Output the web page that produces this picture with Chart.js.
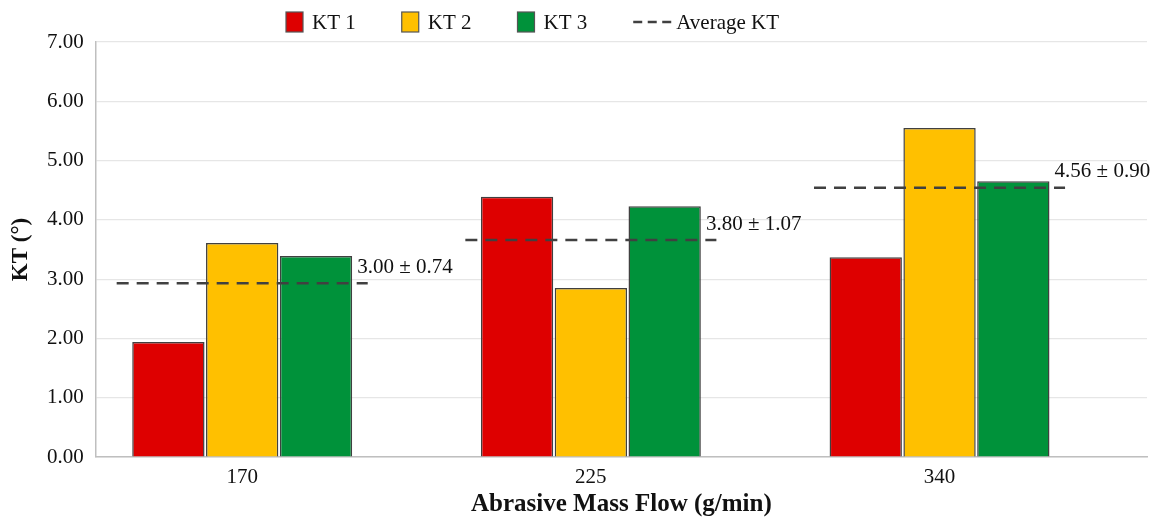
<!DOCTYPE html>
<html>
<head>
<meta charset="utf-8">
<script src="https://cdn.jsdelivr.net/npm/chart.js@4.4.1/dist/chart.umd.min.js"></script>
<style>
  html, body { margin: 0; padding: 0; background: #fff; }
  #wrap { width: 1150px; height: 518px; }
</style>
</head>
<body>
<div id="wrap"><canvas id="ktChart" width="1150" height="518"></canvas></div>
<script>
// categorias (flujo masico de abrasivo, g/min)
const categories = ['170', '225', '340'];
const kt1 = [1.94, 4.39, 3.37];
const kt2 = [3.61, 2.85, 5.55];
const kt3 = [3.39, 4.23, 4.65];
// linea de promedio tal como esta dibujada, y etiqueta media ± desviacion
const avgKT = [2.93, 3.66, 4.54];
const avgText = ['3.00', '3.80', '4.56'];
const sdText = ['0.74', '1.07', '0.90'];

const FONT = "'Liberation Serif', 'DejaVu Serif', serif";
const DARK = '#404040';
const HALF = 0.36; // medio ancho de la linea de promedio (en unidades de categoria)

// puntos de la linea discontinua, con huecos entre grupos
const avgPoints = [];
avgKT.forEach((v, i) => {
  avgPoints.push({ x: i - HALF, y: v });
  avgPoints.push({ x: i + HALF, y: v });
  avgPoints.push({ x: i + 0.5, y: null });
});

const barSet = (label, values, color) => ({
  type: 'bar',
  label: label,
  data: values.map((v, i) => ({ x: i, y: v })),
  backgroundColor: color,
  borderColor: DARK,
  borderWidth: 1.5,
  barPercentage: 0.98,
  categoryPercentage: 0.635,
  order: 1,
});

// texto "media ± sd" junto a cada linea
const avgLabels = {
  id: 'avgLabels',
  afterDatasetsDraw(chart) {
    const { ctx, scales: { x, y } } = chart;
    ctx.save();
    ctx.font = '21px ' + FONT;
    ctx.fillStyle = '#111';
    ctx.textAlign = 'left';
    ctx.textBaseline = 'middle';
    avgKT.forEach((v, i) => {
      const px = x.getPixelForValue(i + 0.33);
      const py = y.getPixelForValue(v) - 16;
      ctx.fillText(avgText[i] + ' \u00b1 ' + sdText[i], px, py);
    });
    ctx.restore();
  }
};

// leyenda propia (la del original no esta centrada)
const topLegend = {
  id: 'topLegend',
  afterDraw(chart) {
    const ctx = chart.ctx;
    const cy = 22;
    let xPos = 286;
    ctx.save();
    ctx.font = '21px ' + FONT;
    ctx.fillStyle = '#111';
    ctx.textBaseline = 'middle';
    chart.data.datasets.forEach(ds => {
      if (ds.type === 'bar') {
        ctx.fillStyle = ds.backgroundColor;
        ctx.fillRect(xPos, cy - 10, 17, 20);
        ctx.strokeStyle = '#555';
        ctx.lineWidth = 1.2;
        ctx.strokeRect(xPos, cy - 10, 17, 20);
        xPos += 17 + 9;
      } else {
        ctx.strokeStyle = DARK;
        ctx.lineWidth = 2.5;
        ctx.setLineDash([9, 5.5]);
        ctx.beginPath();
        ctx.moveTo(xPos, cy);
        ctx.lineTo(xPos + 38, cy);
        ctx.stroke();
        ctx.setLineDash([]);
        xPos += 38 + 5;
      }
      ctx.fillStyle = '#111';
      ctx.fillText(ds.label, xPos, cy + 1);
      xPos += ctx.measureText(ds.label).width + 46;
    });
    ctx.restore();
  }
};

new Chart(document.getElementById('ktChart').getContext('2d'), {
  data: {
    datasets: [
      barSet('KT 1', kt1, '#DE0000'),
      barSet('KT 2', kt2, '#FFC000'),
      barSet('KT 3', kt3, '#00923A'),
      {
        type: 'line',
        label: 'Average KT',
        data: avgPoints,
        borderColor: DARK,
        backgroundColor: DARK,
        borderWidth: 2.5,
        borderDash: [12, 8],
        pointRadius: 0,
        spanGaps: false,
        order: 0,
      },
    ],
  },
  options: {
    responsive: false,
    maintainAspectRatio: false,
    animation: false,
    layout: { padding: { top: 42, right: 3, left: 10, bottom: 0 } },
    plugins: {
      tooltip: { enabled: false },
      legend: { display: false },
    },
    scales: {
      x: {
        type: 'linear',
        offset: false,
        min: -0.42,
        max: 2.595,
        grid: { display: false },
        border: { color: '#bfbfbf', width: 1.5 },
        ticks: {
          stepSize: 1,
          includeBounds: false,
          padding: 2,
          color: '#111',
          font: { family: FONT, size: 21, lineHeight: 1 },
          callback: v => (Number.isInteger(v) && categories[v] !== undefined) ? categories[v] : '',
        },
        title: {
          display: true,
          text: 'Abrasive Mass Flow (g/min)',
          color: '#111',
          font: { family: FONT, size: 25, weight: 'bold', lineHeight: 1 },
          padding: { top: 2, bottom: 1 },
        },
      },
      y: {
        min: 0,
        max: 7,
        grid: { color: '#e6e6e6', lineWidth: 1.2, drawTicks: false },
        border: { color: '#bfbfbf', width: 1.5 },
        ticks: {
          stepSize: 1,
          padding: 12,
          color: '#111',
          font: { family: FONT, size: 21 },
          callback: v => v.toFixed(2),
        },
        title: {
          display: true,
          text: 'KT (°)',
          color: '#111',
          font: { family: FONT, size: 23, weight: 'bold', lineHeight: 1 },
          padding: { top: 0, bottom: 2 },
        },
      },
    },
  },
  plugins: [avgLabels, topLegend],
});
</script>
</body>
</html>
